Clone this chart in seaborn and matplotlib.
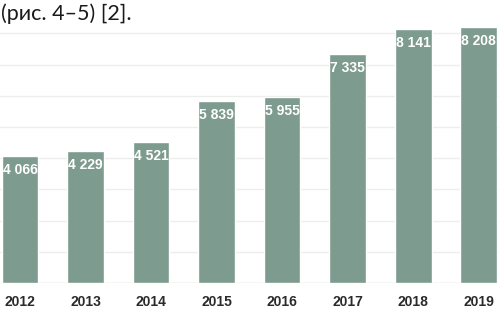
import matplotlib
matplotlib.use("Agg")
import matplotlib.pyplot as plt
import seaborn as sns
import pandas as pd

years = ["2012", "2013", "2014", "2015", "2016", "2017", "2018", "2019"]
values = [4066, 4229, 4521, 5839, 5955, 7335, 8141, 8208]
labels = ["4 066", "4 229", "4 521", "5 839", "5 955", "7 335", "8 141", "8 208"]
grid_values = [0, 1000, 2000, 3000, 4000, 5000, 6000, 7000, 8000]

df = pd.DataFrame({"year": years, "value": values})

sns.set_style("white")
plt.rcParams["font.family"] = ["Liberation Sans", "DejaVu Sans"]

fig = plt.figure(figsize=(4.99, 3.13), dpi=100)
ax = fig.add_axes([0, 30 / 313, 1, 283 / 313])

sns.barplot(data=df, x="year", y="value", color="#7d9b8e", saturation=1,
            width=0.56, ax=ax, zorder=2)

# faint horizontal grid
for g in grid_values:
    ax.axhline(g, color="#d6d6d6" if g == 0 else "#ededed", lw=1, zorder=1)

ax.set_xlim(-0.305, 7.31)
ax.set_ylim(0, 9070)
ax.set_yticks([])
ax.set_xticks([])
ax.set_xlabel("")
ax.set_ylabel("")
for s in ax.spines.values():
    s.set_visible(False)

# value labels inside the bars
for i, (v, lab) in enumerate(zip(values, labels)):
    ax.annotate(lab, (i, v), xytext=(0, -10), textcoords="offset points",
                ha="center", va="center", color="white", fontsize=10,
                fontweight="bold", zorder=3)

# year labels
for i, y in enumerate(years):
    ax.annotate(y, (i, 0), xytext=(0, -13.5), textcoords="offset points",
                ha="center", va="center", color="#2b2b2b", fontsize=10,
                fontweight="bold", annotation_clip=False)

fig.text(0.002, 293 / 313, "(рис. 4–5) [2].", fontsize=15.5,
         family=["Lato", "DejaVu Sans"], color="#1a1a1a",
         ha="left", va="baseline")

fig.savefig("out.png", dpi=100, facecolor="white")
